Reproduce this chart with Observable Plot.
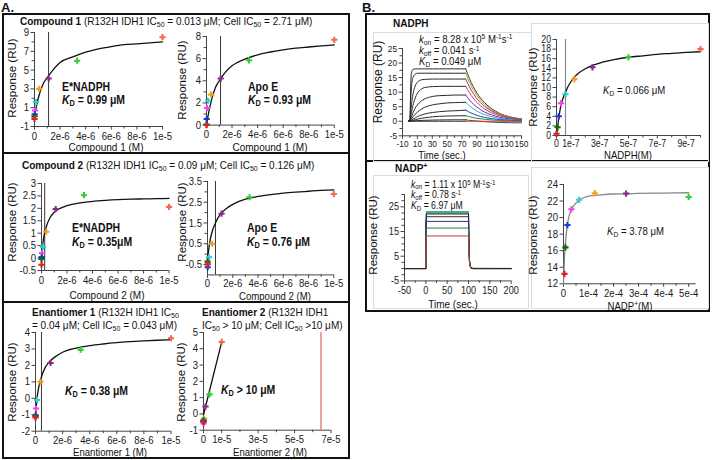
<!DOCTYPE html>
<html><head><meta charset="utf-8">
<script src="https://cdn.jsdelivr.net/npm/d3@7"></script>
<script src="https://cdn.jsdelivr.net/npm/@observablehq/plot@0.6"></script>
<style>
html,body{margin:0;padding:0;background:#fff;}
#root{position:relative;width:713px;height:460px;overflow:hidden;background:#fff;font-family:"Liberation Sans",Arial,sans-serif;}
.t{position:absolute;white-space:nowrap;line-height:1;color:#111;}
.t sub{font-size:70%;position:relative;top:0.28em;vertical-align:baseline;line-height:0;}
.t sup{font-size:70%;position:relative;top:-0.42em;vertical-align:baseline;line-height:0;}
.box{position:absolute;box-sizing:border-box;}
</style></head><body><div id="root"></div>
<script>
// ---------- DATA ----------
// Panel A: dilution series (M) and point colours (highest to lowest)
const concA = [1e-5, 3.33e-6, 1.11e-6, 3.7e-7, 1.23e-7, 4.1e-8, 1.37e-8, 4.6e-9, 0];
const pointColors = ["#f26a4a", "#33cc33", "#8a2a8a", "#f0a020", "#33cccc", "#ee44ee", "#2233dd", "#116611", "#e02020"];
const comp1NadphResp = [8.5, 6.0, 4.1, 3.0, 1.6, 0.7, 0.3, 0.1, -0.2];
const comp1ApoResp = [7.7, 5.85, 4.2, 2.75, 2.2, 1.55, 0.55, 0.05, 0.0];
const comp2NadphResp = [2.06, 2.53, 1.97, 1.06, 0.46, 0.2, 0.04, -0.04, -0.27];
const comp2ApoResp = [2.9, 2.74, 1.95, 0.5, -0.15, -0.45, -0.63, -0.36, -0.5];
const enant1Resp = [3.65, 2.95, 2.15, 1.0, -0.1, -0.62, -1.03, -1.1, -1.17];
const enant2Resp = [4.42, 1.2, 0.45, -0.28, -0.35, -0.59, -0.45, -0.4, -0.5];
// fitted curves
const fitConcA = [0, 1e-7, 2e-7, 4e-7, 7e-7, 1e-6, 1.5e-6, 2e-6, 3e-6, 4e-6, 5e-6, 6e-6, 7e-6, 8e-6, 9e-6, 1e-5];
const comp1NadphFit = [0, 0.8, 1.5, 2.5, 3.6, 4.2, 5.1, 5.8, 6.4, 6.9, 7.25, 7.5, 7.7, 7.8, 7.9, 8.0];
const comp1ApoFit = [0, 0.7, 1.3, 2.3, 3.4, 4.0, 4.8, 5.35, 5.95, 6.35, 6.6, 6.8, 6.95, 7.05, 7.15, 7.25];
const comp2NadphFit = [0, 0.55, 0.9, 1.3, 1.65, 1.84, 2.01, 2.11, 2.22, 2.28, 2.32, 2.35, 2.37, 2.38, 2.39, 2.4];
const comp2ApoFit = [-0.4, 0.25, 0.65, 1.15, 1.6, 1.9, 2.2, 2.4, 2.65, 2.78, 2.87, 2.94, 2.99, 3.03, 3.07, 3.1];
const enant1Fit = [-1.15, -0.1, 0.5, 1.2, 1.85, 2.2, 2.55, 2.8, 3.05, 3.2, 3.3, 3.38, 3.44, 3.49, 3.53, 3.56];
const enant2FitConc = [0, 1e-5];
const enant2Fit = [-0.05, 4.42];
// vertical marker lines (M)
const markerLineA = [1.1e-6, 1.1e-6, 0.25e-6, 0.63e-6, 0.44e-6, 6.45e-5];

// Panel B: NADPH steady state
const nadphConc = [1e-6, 5e-7, 2.5e-7, 1.25e-7, 6.25e-8, 3.13e-8, 1.56e-8, 7.8e-9, 0];
const nadphResp = [18.0, 16.3, 14.2, 11.7, 8.6, 6.7, 4.0, 1.7, 0.35];
const nadphFitConc = [0, 1e-8, 2e-8, 3e-8, 4e-8, 6.25e-8, 8e-8, 1e-7, 1.25e-7, 1.5e-7, 2e-7, 2.5e-7, 3e-7, 4e-7, 5e-7, 6e-7, 7e-7, 8e-7, 9e-7, 1e-6];
const nadphFit = [0, 2.4, 4.5, 6.1, 7.3, 9.0, 10.2, 11.2, 12.2, 12.9, 13.9, 14.6, 15.1, 15.8, 16.3, 16.6, 16.9, 17.1, 17.3, 17.45];
const nadphMarker = 6.25e-8;
// NADPH sensorgram
const nadphAssocTime = [-2, 0, 1, 2, 4, 7, 10, 15, 20, 30, 40, 50, 60, 75];
const nadphAssoc = [
  [0,0,12,16.5,17.8,18,18,18,18,18,18,18,18,18],
  [0,0,7,11.5,15,16.2,16.5,16.5,16.5,16.5,16.5,16.5,16.5,16.5],
  [0,0,3.2,5.7,9.2,12.1,13.4,14.2,14.4,14.5,14.5,14.5,14.5,14.5],
  [0,0,1.6,3,5.4,7.9,9.6,11,11.6,11.9,12,12,12,12],
  [0,0,0.8,1.5,2.8,4.5,5.6,6.9,7.7,8.5,8.8,8.9,9,9],
  [0,0,0.4,0.8,1.5,2.4,3.1,4.1,4.8,5.6,6,6.3,6.4,6.5],
  [0,0,0.2,0.4,0.7,1.1,1.6,2.1,2.5,3,3.3,3.5,3.6,3.8],
  [0,0,0.1,0.2,0.3,0.5,0.7,1,1.2,1.5,1.7,1.8,1.85,1.9],
  [0,0,0,0.05,0.1,0.15,0.2,0.28,0.33,0.4,0.45,0.48,0.5,0.5],
  [0,0,0,0,0,0,0,0,0,0,0,0,0,0]
];
const nadphDissTime = [75, 80, 90, 100, 110, 120, 135, 150];
const nadphDiss = [
  [18,14.7,9.7,6.5,4.3,2.8,1.5,0.8],
  [16.5,13.4,8.9,5.9,3.9,2.6,1.4,0.75],
  [14.5,11.8,7.8,5.2,3.5,2.3,1.2,0.65],
  [12,9.8,6.5,4.3,2.9,1.9,1.0,0.5],
  [9,7.3,4.9,3.2,2.2,1.4,0.75,0.4],
  [6.5,5.3,3.5,2.3,1.6,1.0,0.55,0.3],
  [3.8,3.1,2.05,1.35,0.9,0.6,0.3,0.15],
  [1.9,1.55,1.0,0.7,0.45,0.3,0.15,0.05],
  [0.5,0.3,0.05,-0.15,-0.3,-0.4,-0.5,-0.55],
  [0,0,0,0,0,0,0,0]
];
const nadphDissColors = ["#3d3d2a","#a89a40","#8b4a2b","#c0309a","#7a2a9a","#2ab0b8","#2a40c0","#2a8a3a","#444444","#d03a3a"];

// NADP+ steady state
const nadpConc = [5e-4, 2.5e-4, 1.25e-4, 6.25e-5, 3.13e-5, 1.56e-5, 7.8e-6, 3.9e-6];
const nadpResp = [22.5, 22.9, 22.95, 22.15, 21.0, 19.1, 16.4, 13.2];
const nadpColors = ["#33cc33", "#8a2a8a", "#f0a020", "#33cccc", "#ee44ee", "#2233dd", "#116611", "#e02020"];
const nadpFitConc = [0, 2e-6, 4e-6, 8e-6, 1.2e-5, 1.6e-5, 2e-5, 3e-5, 4e-5, 6e-5, 8e-5, 1e-4, 1.5e-4, 2e-4, 3e-4, 4e-4, 5e-4];
const nadpFit = [12, 13.6, 15.2, 17.0, 18.3, 19.2, 19.9, 20.9, 21.4, 22.05, 22.4, 22.6, 22.75, 22.85, 22.92, 22.96, 23.0];
// NADP+ sensorgram
const nadpSensTime = [-50, 0, 0.5, 1.5, 100, 100.8, 101.5, 102.5, 104, 106, 110, 200];
const nadpSens = [
  [0,0,18.4,23,23,12.7,6.9,3.0,1.2,0.35,0,0],
  [0,0,18.3,22.9,22.9,12.6,6.9,3.0,1.1,0.34,0,0],
  [0,0,18.0,22.5,22.5,12.4,6.8,2.9,1.1,0.34,0,0],
  [0,0,17.7,22.1,22.1,12.2,6.6,2.9,1.1,0.33,0,0],
  [0,0,16.8,21,21,11.6,6.3,2.7,1.05,0.3,0,0],
  [0,0,15.3,19.1,19.1,10.5,5.7,2.5,0.95,0.29,0,0],
  [0,0,13.1,16.4,16.4,9.0,4.9,2.1,0.8,0.25,0,0],
  [0,0,10.6,13.2,13.2,7.3,4.0,1.7,0.66,0.2,0,0]
];
const nadpSensColors = ["#1a6a3a","#2ec4b0","#1a8a5a","#222222","#333333","#3a2a8a","#2a7a3a","#c03a3a"];
const nadpBaseTime = [[-50, 0], [106, 200]];
const nadpBaseValue = [[0, 0], [0.1, 0.05]];

// tick values
const ticksA_x = [0, 2e-6, 4e-6, 6e-6, 8e-6, 1e-5];
const ticksA_xMinor = [1e-6, 3e-6, 5e-6, 7e-6, 9e-6];

// ---------- HELPERS ----------
const root = document.getElementById("root");
const FONT = '"Liberation Sans", Arial, sans-serif';
const expFmt = d => d === 0 ? "0" : d.toExponential(0);
const numFmt = d => String(d);
const rows = (xs, ys, cols) => xs.map((c, i) => ({c, r: ys[i], color: cols ? cols[i] : null}));
function table(times, mat) {
  const out = [];
  mat.forEach((row, k) => row.forEach((v, j) => out.push({t: Array.isArray(times[0]) ? times[k][j] : times[j], v, k})));
  return out;
}

function chart(c) {
  const L = c.fx[0] - 34, R = c.fx[1] + 14, Tp = c.fy[0] - 8, B = c.fy[1] + 17;
  const pad = c.tickPad ?? 2;
  const svg = Plot.plot({
    width: R - L, height: B - Tp,
    marginLeft: c.fx[0] - L, marginRight: R - c.fx[1],
    marginTop: c.fy[0] - Tp, marginBottom: B - c.fy[1],
    x: {domain: c.xDomain, label: null},
    y: {domain: c.yDomain, label: null},
    color: {type: "identity"},
    style: {fontFamily: FONT, fontSize: (c.tickFont || 11) + "px", color: "#1a1a1a", background: "transparent", overflow: "visible"},
    marks: [
      Plot.axisY(c.yMinor, {tickSize: 2.5, tickFormat: () => "", label: null, stroke: "#444"}),
      Plot.axisY(c.yMajor, {tickSize: 3.5, tickPadding: 2, tickFormat: numFmt, label: null, stroke: "#444"}),
      Plot.axisX(c.xMinor, {tickSize: 2.5, tickFormat: () => "", label: null, stroke: "#444"}),
      Plot.axisX(c.xMajor, {tickSize: 3.5, tickPadding: pad, tickFormat: c.xFmt || numFmt, label: null, stroke: "#444"}),
      Plot.ruleX([c.xDomain[0]], {stroke: "#444", strokeWidth: 1}),
      Plot.ruleY([c.yDomain[0]], {stroke: "#444", strokeWidth: 1}),
      ...c.marks
    ]
  });
  svg.style.position = "absolute";
  svg.style.left = L + "px";
  svg.style.top = Tp + "px";
  svg.querySelectorAll("text").forEach(t => {
    const tr = t.getAttribute("transform");
    if (tr) t.setAttribute("transform", tr + " scale(0.87,1)");
  });
  root.appendChild(svg);
}

function T(html, x, y, o = {}) {
  const d = document.createElement("div");
  d.className = "t";
  d.innerHTML = html;
  d.style.fontSize = (o.size || 11.5) + "px";
  d.style.left = x + "px";
  d.style.top = y + "px";
  const sx = o.sx ?? 0.87;
  if (o.rot) d.style.transform = "translate(-50%,-50%) rotate(-90deg)";
  else if (o.center) d.style.transform = `translate(-50%,-50%) scaleX(${sx})`;
  else { d.style.transformOrigin = "0 50%"; d.style.transform = `translateY(-50%) scaleX(${sx})`; }
  root.appendChild(d);
}
function box(l, t, w, h, css) {
  const d = document.createElement("div");
  d.className = "box";
  Object.assign(d.style, {left: l + "px", top: t + "px", width: w + "px", height: h + "px"}, css);
  root.appendChild(d);
}

function bindingMarks(conc, resp, cols, fitC, fitR, marker, opts = {}) {
  return [
    Plot.ruleX([marker], {stroke: opts.markerColor || "#333", strokeWidth: opts.markerWidth || 1}),
    Plot.line(rows(fitC, fitR), {x: "c", y: "r", curve: opts.curve || "monotone-x", stroke: opts.fitColor || "#111", strokeWidth: 1.3}),
    Plot.dot(rows(conc, resp, cols), {x: "c", y: "r", fill: "color", symbol: "cross", r: 2.6})
  ];
}

// ---------- FRAMES ----------
box(2, 13, 348, 446, {border: "2px solid #111"});
box(2, 151.5, 348, 2, {background: "#111"});
box(2, 300.5, 348, 2, {background: "#111"});
box(365, 13, 345, 299, {border: "2px solid #111"});
box(365, 160, 345, 2, {background: "#111"});
box(373, 31.5, 159, 130, {border: "1px solid #dcdcdc"});
box(531, 22.5, 178, 139, {border: "1px solid #dcdcdc"});
box(373, 175, 156, 134, {border: "1px solid #dcdcdc"});
box(531, 166.5, 178, 142, {border: "1px solid #dcdcdc"});

// ---------- PANEL A ----------
chart({fx: [34, 162], fy: [31.7, 125.7], xDomain: [0, 1e-5], yDomain: [-1, 9],
  xMajor: ticksA_x, xMinor: ticksA_xMinor, xFmt: expFmt,
  yMajor: [-1, 1, 3, 5, 7, 9], yMinor: [0, 2, 4, 6, 8],
  marks: bindingMarks(concA, comp1NadphResp, pointColors, fitConcA, comp1NadphFit, markerLineA[0])});
chart({fx: [205.5, 333.3], fy: [35.7, 124.3], xDomain: [0, 1e-5], yDomain: [0, 8],
  xMajor: ticksA_x, xMinor: ticksA_xMinor, xFmt: expFmt,
  yMajor: [0, 2, 4, 6, 8], yMinor: [1, 3, 5, 7],
  marks: bindingMarks(concA, comp1ApoResp, pointColors, fitConcA, comp1ApoFit, markerLineA[1])});
chart({fx: [40.7, 168.3], fy: [183.3, 270.3], xDomain: [0, 1e-5], yDomain: [-0.5, 3],
  xMajor: ticksA_x, xMinor: ticksA_xMinor, xFmt: expFmt,
  yMajor: [-0.5, 0, 0.5, 1, 1.5, 2, 2.5, 3], yMinor: [],
  marks: bindingMarks(concA, comp2NadphResp, pointColors, fitConcA, comp2NadphFit, markerLineA[2])});
chart({fx: [207, 333.3], fy: [181, 274.4], xDomain: [0, 1e-5], yDomain: [-1, 3.5], tickPad: 1,
  xMajor: ticksA_x, xMinor: ticksA_xMinor, xFmt: expFmt,
  yMajor: [-0.5, 0.5, 1.5, 2.5, 3.5], yMinor: [0, 1, 2, 3],
  marks: bindingMarks(concA, comp2ApoResp, pointColors, fitConcA, comp2ApoFit, markerLineA[3])});
chart({fx: [35, 170.5], fy: [332.3, 431], xDomain: [0, 1e-5], yDomain: [-2, 4], tickPad: 1,
  xMajor: ticksA_x, xMinor: ticksA_xMinor, xFmt: expFmt,
  yMajor: [-2, -1, 0, 1, 2, 3, 4], yMinor: [],
  marks: bindingMarks(concA, enant1Resp, pointColors, fitConcA, enant1Fit, markerLineA[4])});
chart({fx: [202.5, 330], fy: [332.3, 430], xDomain: [0, 7e-5], yDomain: [-1, 5], tickPad: 1,
  xMajor: [0, 1e-5, 3e-5, 5e-5, 7e-5], xMinor: [2e-5, 4e-5, 6e-5], xFmt: expFmt,
  yMajor: [-1, 0, 1, 2, 3, 4, 5], yMinor: [],
  marks: bindingMarks(concA, enant2Resp, pointColors, enant2FitConc, enant2Fit, markerLineA[5],
    {markerColor: "#e07070", markerWidth: 1.3, curve: "linear"})});

// ---------- PANEL B ----------
chart({fx: [402, 521], fy: [47.7, 135], xDomain: [-10, 150], yDomain: [-5, 25], tickFont: 9.5, tickPad: 1,
  xMajor: [-10, 10, 30, 50, 70, 90, 110, 130, 150], xMinor: [0, 20, 40, 60, 80, 100, 120, 140],
  yMajor: [-5, 0, 5, 10, 15, 20, 25], yMinor: [-2.5, 2.5, 7.5, 12.5, 17.5, 22.5],
  marks: [
    Plot.line(table(nadphAssocTime, nadphAssoc), {x: "t", y: "v", z: "k", stroke: "#2a2a2a", strokeWidth: 1, curve: "monotone-x"}),
    Plot.line(table(nadphDissTime, nadphDiss), {x: "t", y: "v", z: "k", stroke: d => nadphDissColors[d.k], strokeWidth: 1, curve: "monotone-x"})
  ]});
chart({fx: [556, 700], fy: [39, 135], xDomain: [0, 1e-6], yDomain: [0, 20], tickFont: 10, tickPad: 1,
  xMajor: [0, 1e-7, 3e-7, 5e-7, 7e-7, 9e-7], xMinor: [2e-7, 4e-7, 6e-7, 8e-7, 1e-6], xFmt: expFmt,
  yMajor: [0, 2, 4, 6, 8, 10, 12, 14, 16, 18, 20], yMinor: [],
  marks: bindingMarks(nadphConc, nadphResp, pointColors, nadphFitConc, nadphFit, nadphMarker,
    {markerColor: "#888", markerWidth: 1.2})});
chart({fx: [404.3, 511], fy: [194.3, 280.7], xDomain: [-50, 200], yDomain: [-5, 30], tickFont: 10.5,
  xMajor: [-50, 0, 50, 100, 150, 200], xMinor: [-25, 25, 75, 125, 175],
  yMajor: [-5, 5, 15, 25], yMinor: [0, 10, 20, 30, -2.5, 2.5, 7.5, 12.5, 17.5, 22.5, 27.5],
  marks: [
    Plot.line(table(nadpSensTime, nadpSens), {x: "t", y: "v", z: "k", stroke: d => nadpSensColors[d.k], strokeWidth: 1}),
    Plot.line(table(nadpBaseTime, nadpBaseValue), {x: "t", y: "v", z: "k", stroke: "#222", strokeWidth: 1})
  ]});
chart({fx: [563.3, 696], fy: [184, 283.3], xDomain: [0, 5.3e-4], yDomain: [12, 24],
  xMajor: [0, 1e-4, 2e-4, 3e-4, 4e-4, 5e-4], xMinor: [0.5e-4, 1.5e-4, 2.5e-4, 3.5e-4, 4.5e-4], xFmt: expFmt,
  yMajor: [12, 14, 16, 18, 20, 22, 24], yMinor: [],
  marks: [
    Plot.line(rows(nadpFitConc, nadpFit), {x: "c", y: "r", curve: "monotone-x", stroke: "#888", strokeWidth: 1.3}),
    Plot.dot(rows(nadpConc, nadpResp, nadpColors), {x: "c", y: "r", fill: "color", symbol: "cross", r: 2.6})
  ]});

// ---------- TEXT ----------
const KD = '<i>K</i><sub>D</sub>';
T('<b>A.</b>', 1, 7, {size: 13, sx: 1});
T('<b>B.</b>', 362, 7, {size: 13, sx: 1});
T('<b>Compound 1</b> (R132H IDH1 IC<sub>50</sub> = 0.013 μM; Cell IC<sub>50</sub> = 2.71 μM)', 20, 22);
T('<b>Compound 2</b> (R132H IDH1 IC<sub>50</sub> = 0.09 μM; Cell IC<sub>50</sub> = 0.126 μM)', 22, 166);
T('<b>Enantiomer 1</b> (R132H IDH1 IC<sub>50</sub>', 32, 313);
T('= 0.04 μM; Cell IC<sub>50</sub> = 0.043 μM)', 32, 326);
T('<b>Enantiomer 2</b> (R132H IDH1', 201.5, 313);
T('IC<sub>50</sub> &gt; 10 μM; Cell IC<sub>50</sub> &gt;10 μM)', 201.5, 326);

T('<b>E*NADPH</b>', 62, 87, {size: 12});
T('<b>' + KD + ' = 0.99 μM</b>', 62, 100, {size: 12});
T('<b>Apo E</b>', 247.5, 87, {size: 12});
T('<b>' + KD + ' = 0.93 μM</b>', 247.5, 99.5, {size: 12});
T('<b>E*NADPH</b>', 71.5, 228, {size: 12});
T('<b>' + KD + ' = 0.35μM</b>', 71.5, 241.5, {size: 12});
T('<b>Apo E</b>', 246.5, 228, {size: 12});
T('<b>' + KD + ' = 0.76 μM</b>', 246.5, 241.5, {size: 12});
T('<b>' + KD + ' = 0.38 μM</b>', 65, 390.5, {size: 12});
T('<b>' + KD + ' &gt; 10 μM</b>', 221, 390, {size: 12});

T('Response (RU)', 13, 78, {rot: true});
T('Compound 1 (M)', 106, 148, {center: true});
T('Response (RU)', 183.3, 80, {rot: true});
T('Compound 1 (M)', 270, 148, {center: true});
T('Response (RU)', 13.3, 222, {rot: true});
T('Compound 2 (M)', 106.7, 295.5, {center: true});
T('Response (RU)', 183.3, 222, {rot: true});
T('Compound 2 (M)', 275, 295.5, {center: true, size: 11});
T('Response (RU)', 13, 381.7, {rot: true});
T('Enantiomer 1 (M)', 110, 452, {center: true, size: 11});
T('Response (RU)', 181.7, 381.7, {rot: true});
T('Enantiomer 2 (M)', 270, 452, {center: true, size: 11});

T('<b>NADPH</b>', 393, 23.5, {size: 11.5});
T('<i>k</i><sub>on</sub> = 8.28 x 10<sup>5</sup> M<sup>-1</sup>s<sup>-1</sup>', 418.5, 38.5, {size: 11});
T('<i>k</i><sub>off</sub> = 0.041 s<sup>-1</sup>', 418.5, 50, {size: 11});
T(KD + ' = 0.049 μM', 418.5, 61, {size: 11});
T(KD + ' = 0.066 μM', 602.5, 90, {size: 11});
T('Response (RU)', 378.3, 82, {rot: true, size: 12});
T('Time (sec.)', 441.7, 154.5, {center: true, size: 11});
T('Response (RU)', 533.5, 87, {rot: true, size: 11.5});
T('NADPH(M)', 628, 154.5, {center: true, size: 11});

T('<b>NADP<sup>+</sup></b>', 395, 168.5, {size: 11.5});
T('<i>k</i><sub>on</sub> = 1.11 x 10<sup>5</sup> M<sup>-1</sup>s<sup>-1</sup>', 410.7, 184.5, {size: 10});
T('<i>k</i><sub>off</sub> = 0.78 s<sup>-1</sup>', 410.7, 195.3, {size: 10});
T(KD + ' = 6.97 μM', 410.7, 206, {size: 10});
T(KD + ' = 3.78 μM', 607.3, 230.7, {size: 11});
T('Response (RU)', 374.3, 235, {rot: true, size: 11.5});
T('Time (sec.)', 453.3, 304.5, {center: true, size: 11.5});
T('Response (RU)', 534, 235, {rot: true, size: 11.5});
T('NADP<sup>+</sup>(M)', 630, 305.5, {center: true, size: 11});
</script></body></html>
